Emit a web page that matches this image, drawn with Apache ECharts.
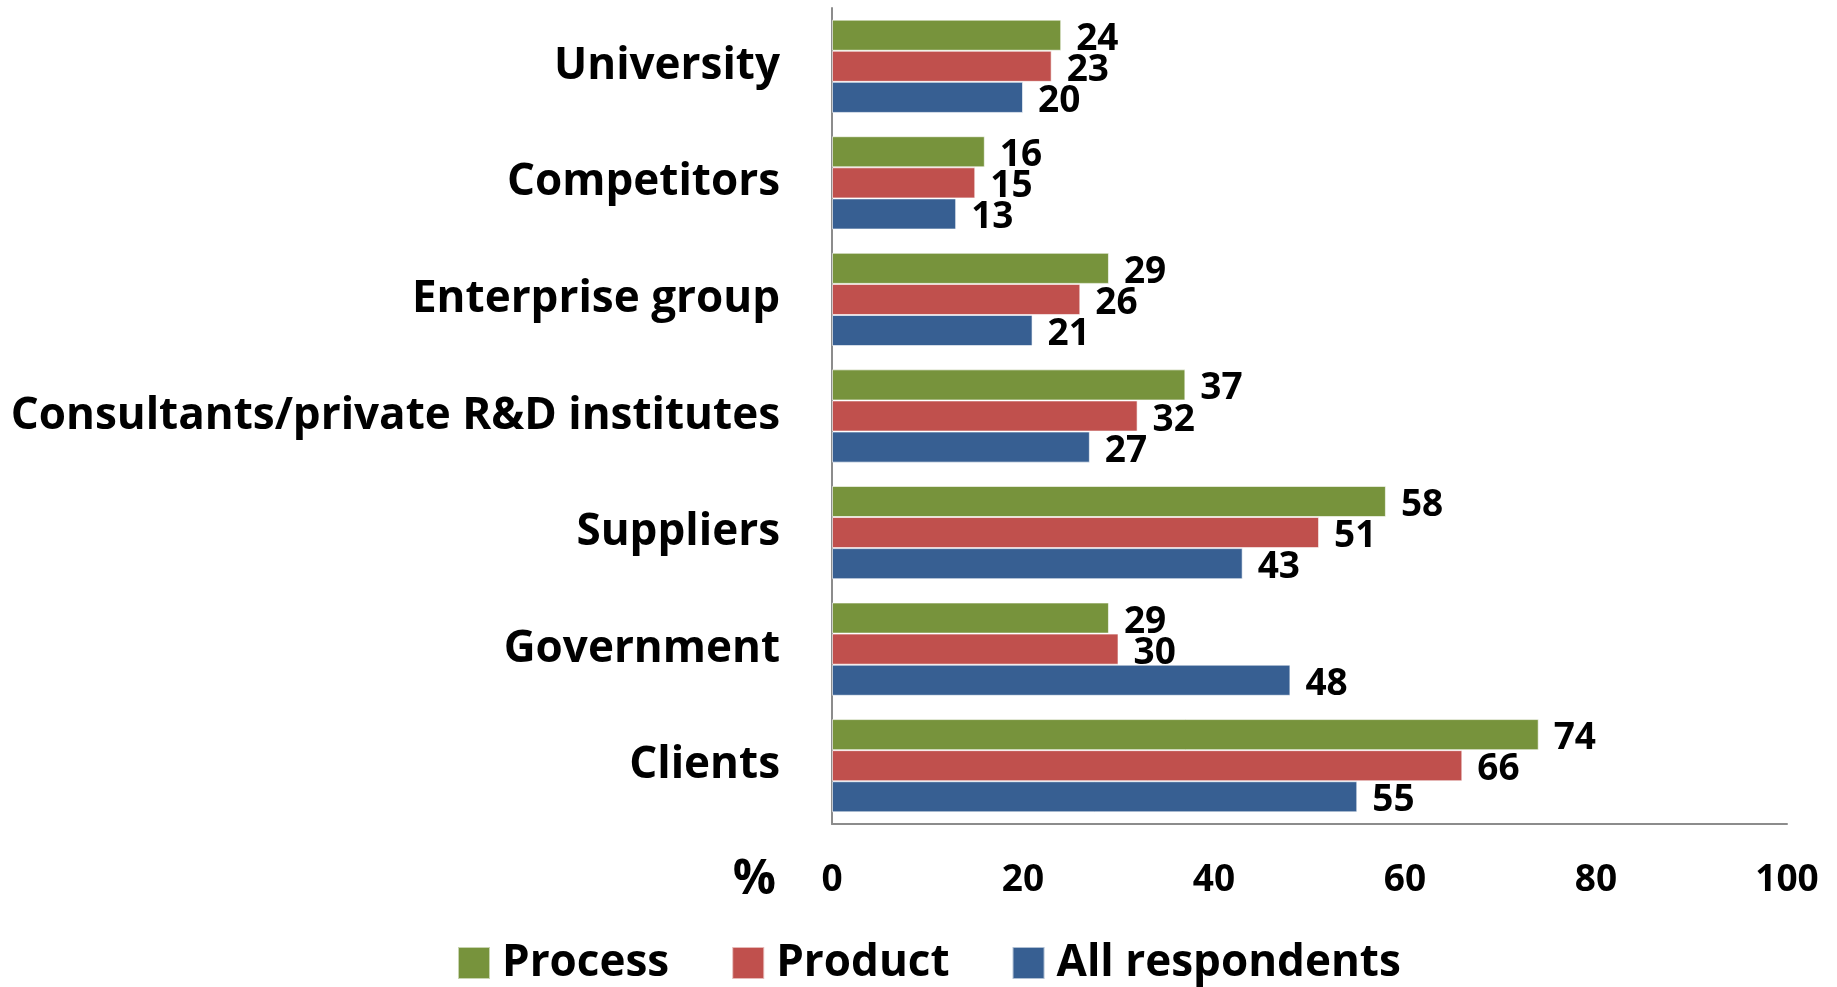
<!DOCTYPE html>
<html>
<head>
<meta charset="utf-8">
<title>Sources of cooperation</title>
<script src="https://cdn.jsdelivr.net/npm/echarts@6/dist/echarts.min.js"></script>
<style>
  html, body { margin: 0; padding: 0; background: #ffffff; }
  #chart { width: 1837px; height: 987px; }
</style>
</head>
<body>
<div id="chart"></div>
<script>
// Categories listed bottom to top along the vertical axis
const categories = [
  'Clients',
  'Government',
  'Suppliers',
  'Consultants/private R&D institutes',
  'Enterprise group',
  'Competitors',
  'University'
];

const processValues = [74, 29, 58, 37, 29, 16, 24];
const productValues = [66, 30, 51, 32, 26, 15, 23];
const allRespondentsValues = [55, 48, 43, 27, 21, 13, 20];

const axisTicks = [0, 20, 40, 60, 80, 100];

const FONT = '"Open Sans", "DejaVu Sans", sans-serif';

const labelStyle = {
  show: true,
  position: 'right',
  distance: 15,
  offset: [0, 4],
  fontFamily: FONT,
  fontWeight: 'bold',
  fontSize: 37,
  color: '#000000'
};

function barSeries(name, data, color) {
  return {
    name: name,
    type: 'bar',
    data: data,
    barGap: '0%',
    barCategoryGap: '20%',
    itemStyle: { color: color, borderColor: 'rgba(255,255,255,0.6)', borderWidth: 1 },
    label: labelStyle,
    emphasis: { disabled: true }
  };
}

const chart = echarts.init(document.getElementById('chart'));
chart.setOption({
  animation: false,
  backgroundColor: '#ffffff',
  grid: { left: 832, right: 50, top: 8, bottom: 163, containLabel: false },
  legend: {
    left: 457,
    top: 941,
    padding: 0,
    itemWidth: 32,
    itemHeight: 32,
    itemGap: 62,
    icon: 'rect',
    textStyle: { fontFamily: FONT, fontWeight: 'bold', fontSize: 44, color: '#000000', padding: [0, 0, 0, 7] },
    data: ['Process', 'Product', 'All respondents']
  },
  xAxis: {
    type: 'value',
    min: axisTicks[0],
    max: axisTicks[axisTicks.length - 1],
    interval: axisTicks[1] - axisTicks[0],
    name: '%',
    nameLocation: 'start',
    nameGap: 56,
    nameTextStyle: { fontFamily: FONT, fontWeight: 'bold', fontSize: 48, color: '#000000', verticalAlign: 'top', padding: [32, 0, 0, 0] },
    axisLine: { show: true, lineStyle: { color: '#8c8c8c', width: 2 } },
    axisTick: { show: false },
    splitLine: { show: false },
    axisLabel: { fontFamily: FONT, fontWeight: 'bold', fontSize: 37, color: '#000000', margin: 38 }
  },
  yAxis: {
    type: 'category',
    data: categories,
    axisLine: { show: true, lineStyle: { color: '#8c8c8c', width: 2 } },
    axisTick: { show: false },
    splitLine: { show: false },
    axisLabel: { fontFamily: FONT, fontWeight: 'bold', fontSize: 44, color: '#000000', margin: 52, padding: [10, 0, 0, 0] }
  },
  series: [
    barSeries('Process', processValues, '#77933C'),
    barSeries('Product', productValues, '#C0504D'),
    barSeries('All respondents', allRespondentsValues, '#375F92')
  ]
});
</script>
</body>
</html>
